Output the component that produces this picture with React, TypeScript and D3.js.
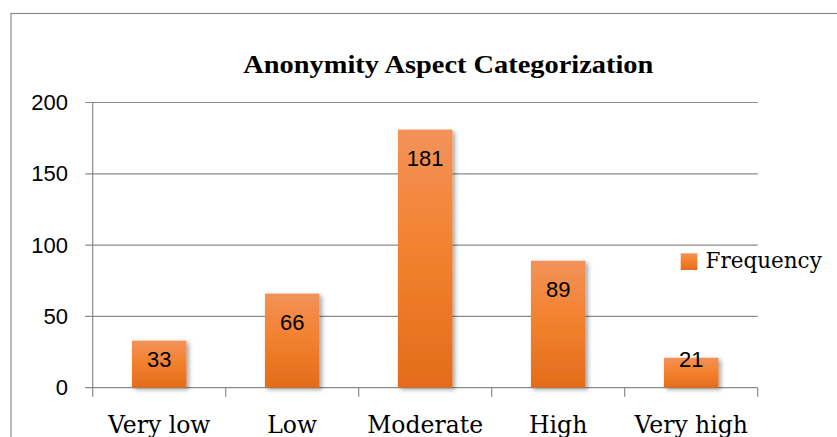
import React from "react";
import * as d3 from "d3";

// chart values
const categories = ["Very low", "Low", "Moderate", "High", "Very high"];
const frequency = [33, 66, 181, 89, 21];
const yTicks = [0, 50, 100, 150, 200];
const seriesName = "Frequency";
const title = "Anonymity Aspect Categorization";

const W = 837;
const H = 437;
const plot = { left: 92.7, right: 757.7, top: 102.5, bottom: 387.7 };

const sans = "'Liberation Sans', Arial, sans-serif";
const serif = "'DejaVu Serif', serif";

export default function App() {
  const x = d3
    .scaleBand<string>()
    .domain(categories)
    .range([plot.left, plot.right])
    .padding(0);
  const y = d3.scaleLinear().domain([0, 200]).range([plot.bottom, plot.top]);
  const barW = x.bandwidth() * 0.41;

  // tick boundaries between categories
  const bounds = d3.range(categories.length + 1).map((i) => plot.left + i * x.bandwidth());

  return (
    <svg
      width={W}
      height={H}
      style={{ position: "absolute", left: 0, top: 0, background: "#fff" }}
    >
      <defs>
        <linearGradient id="barGrad" x1="0" y1="0" x2="0" y2="1">
          <stop offset="0" stopColor="#F2925A" />
          <stop offset="0.45" stopColor="#F3822F" />
          <stop offset="1" stopColor="#E36C1B" />
        </linearGradient>
        <filter id="shadow" x="-20%" y="-20%" width="150%" height="140%">
          <feDropShadow dx="2.5" dy="2" stdDeviation="2" floodColor="#000" floodOpacity="0.35" />
        </filter>
      </defs>

      {/* outer chart border */}
      <rect x={11} y={13.5} width={W} height={H} fill="none" stroke="#8c8c8c" strokeWidth={1.2} />

      {/* title */}
      <text
        x={243.3}
        y={73.3}
        textLength={410}
        lengthAdjust="spacingAndGlyphs"
        fontFamily="'Liberation Serif', serif"
        fontWeight="bold"
        fontSize={25}
        fill="#000"
      >
        {title}
      </text>

      {/* gridlines + y ticks */}
      {yTicks.map((t) => (
        <g key={t}>
          <line
            x1={plot.left - 7.5}
            x2={plot.right}
            y1={y(t)}
            y2={y(t)}
            stroke="#8a8a8a"
            strokeWidth={1.2}
          />
          <text
            x={68}
            y={y(t)}
            textAnchor="end"
            dominantBaseline="central"
            fontFamily={sans}
            fontSize={22}
            fill="#000"
          >
            {t}
          </text>
        </g>
      ))}

      {/* y axis line */}
      <line x1={plot.left} x2={plot.left} y1={plot.top} y2={plot.bottom} stroke="#8a8a8a" strokeWidth={1.2} />

      {/* category ticks */}
      {bounds.map((bx, i) => (
        <line key={i} x1={bx} x2={bx} y1={plot.bottom} y2={plot.bottom + 9} stroke="#8a8a8a" strokeWidth={1.2} />
      ))}

      {/* bars */}
      {categories.map((c, i) => {
        const cx = x(c)! + x.bandwidth() / 2;
        const top = y(frequency[i]);
        const labelY = Math.min(top + 29, y(0) - 28);
        return (
          <g key={c}>
            <rect
              x={cx - barW / 2}
              y={top}
              width={barW}
              height={y(0) - top}
              fill="url(#barGrad)"
              filter="url(#shadow)"
            />
            <text
              x={cx}
              y={labelY}
              textAnchor="middle"
              dominantBaseline="central"
              fontFamily={sans}
              fontSize={22}
              fill="#000"
            >
              {frequency[i]}
            </text>
            <text
              x={cx}
              y={433}
              textAnchor="middle"
              fontFamily={serif}
              fontSize={23.5}
              fill="#000"
            >
              {c}
            </text>
          </g>
        );
      })}

      {/* legend */}
      <rect x={680.7} y={253.3} width={16.7} height={16.7} fill="url(#barGrad)" />
      <text x={705.5} y={268} fontFamily={serif} fontSize={21.5} fill="#000">
        {seriesName}
      </text>
    </svg>
  );
}
